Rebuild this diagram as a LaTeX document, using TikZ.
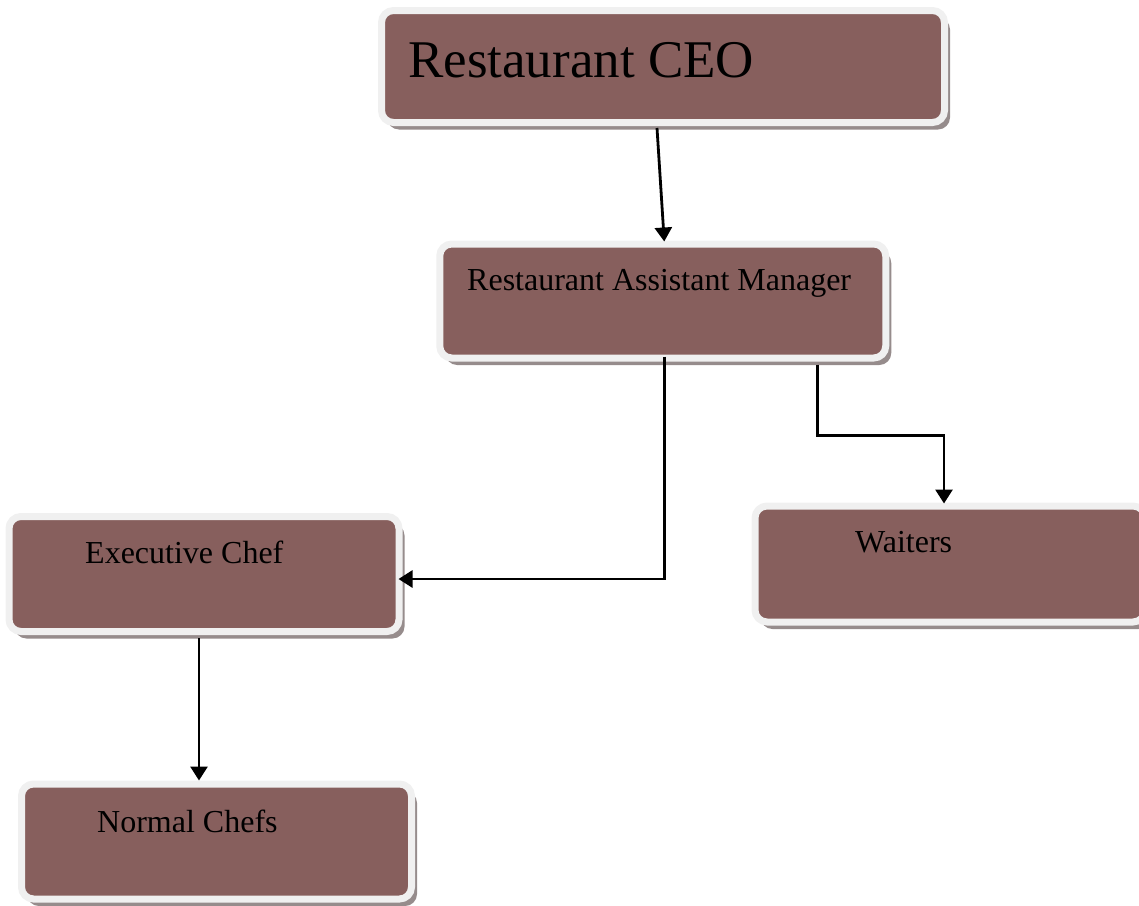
\documentclass[tikz,border=0pt]{standalone}
\usepackage{fontspec}
\setmainfont{Liberation Serif}
\usetikzlibrary{shadows,arrows.meta,calc}
\definecolor{boxfill}{RGB}{135,95,93}
\definecolor{boxrim}{RGB}{240,240,240}
\definecolor{boxshadow}{RGB}{150,140,140}
\tikzset{
  orgbox/.style={draw=boxrim, line width=7pt, fill=boxfill, rounded corners=12pt,
    drop shadow={shadow xshift=5.5pt, shadow yshift=-7pt, fill=boxshadow, opacity=1},
    inner sep=0pt},
  lbl/.style={anchor=base west, inner sep=0pt, font=\fontsize{32}{36}\selectfont},
  arr/.style={line width=2.8pt, -{Triangle[length=14pt,width=17pt]}}
}
\begin{document}
\begin{tikzpicture}[x=1pt,y=-1pt]
\useasboundingbox (0,0) rectangle (1139,905);
\begin{scope}
\clip (0,0) rectangle (1139,905);
\node[orgbox, minimum width=563pt, minimum height=112pt] (ceo) at (663,66.5) {};
\node[orgbox, minimum width=446pt, minimum height=114pt] (am) at (662.75,301) {};
\node[orgbox, minimum width=390pt, minimum height=115pt] (exec) at (204,574) {};
\node[orgbox, minimum width=390pt, minimum height=116pt] (wait) at (950,564) {};
\node[orgbox, minimum width=390pt, minimum height=115pt] (norm) at (216.5,841.5) {};
\end{scope}

\node[lbl, font=\fontsize{53}{60}\selectfont] (tceo) at (408,77) {Restaurant CEO};
\node[lbl] (tam) at (467,290) {Restaurant Assistant Manager};
\node[lbl] (texec) at (85,563.5) {Executive Chef};
\node[lbl] (twait) at (855,552.5) {Waiters};
\node[lbl] (tnorm) at (97,832) {Normal Chefs};

\coordinate (s1) at ($(ceo.south)+(-6,2)$);
\coordinate (e1) at ($(am.north)+(1.5,1)$);
\coordinate (s2) at ($(am.south)+(2,-5)$);
\coordinate (e2) at ($(exec.east)+(-4,5)$);
\coordinate (s3) at ($(am.south)+(155,3)$);
\coordinate (e3) at ($(wait.north)+(-6,1)$);
\coordinate (s4) at ($(exec.south)+(-5,3)$);

\draw[arr] (s1) -- (e1);
\draw[arr] (s2) |- (e2);
\draw[arr] (s3) -- ++(0,71) -| (e3);
\draw[arr] (s4) -- (s4 |- norm.north);
\end{tikzpicture}
\end{document}
